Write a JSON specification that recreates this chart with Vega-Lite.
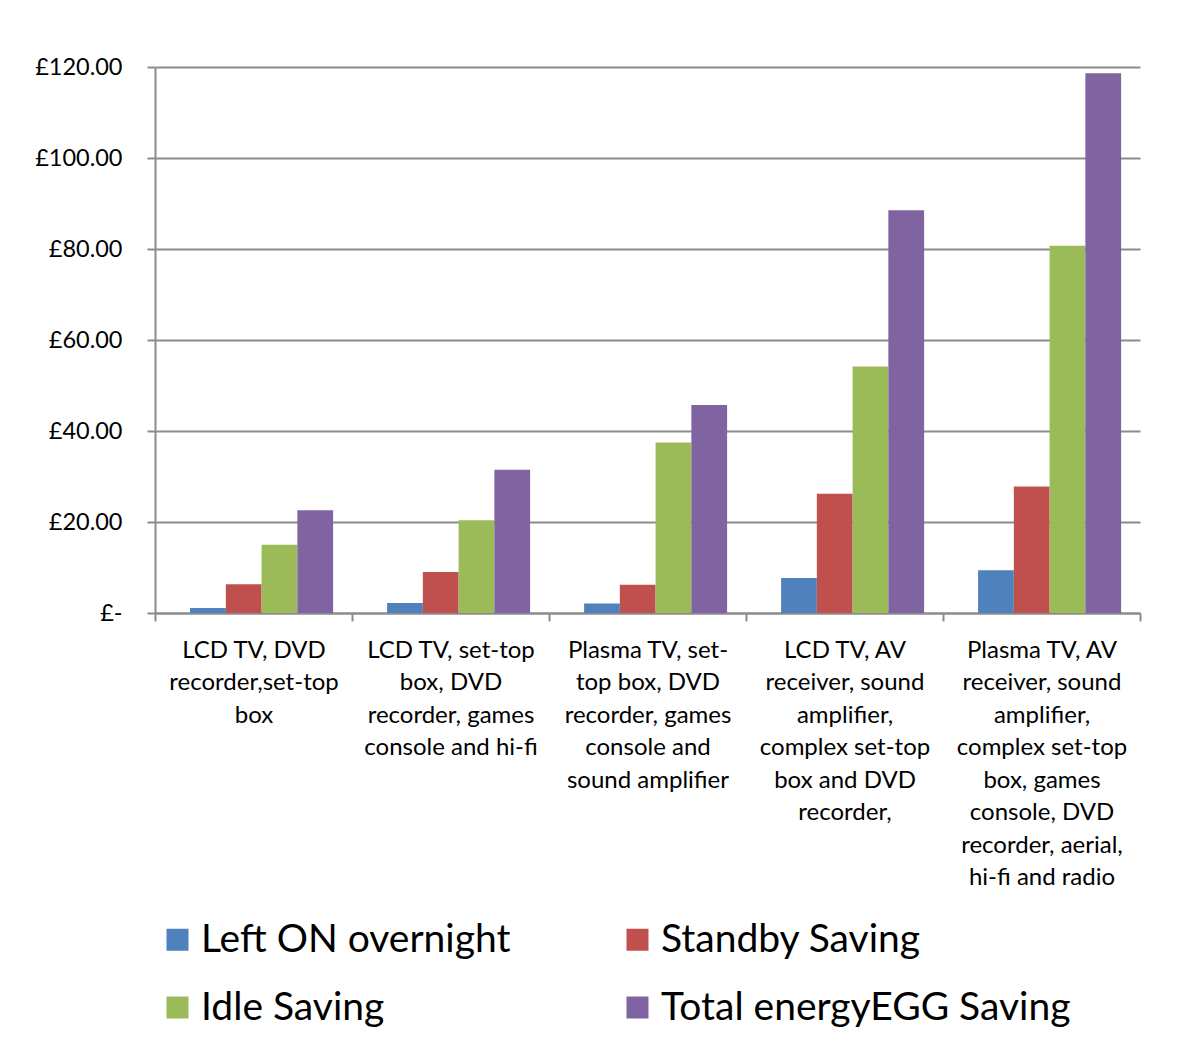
{
  "$schema": "https://vega.github.io/schema/vega-lite/v6.json",
  "width": 985,
  "height": 546,
  "autosize": {"type": "none"},
  "padding": {"left": 155, "top": 67, "right": 62, "bottom": 432},
  "background": "white",
  "data": {
    "values": [
      {"setup": "LCD TV, DVD\nrecorder,set-top\nbox", "series": "Left ON overnight", "saving": 1.1},
      {"setup": "LCD TV, DVD\nrecorder,set-top\nbox", "series": "Standby Saving", "saving": 6.3},
      {"setup": "LCD TV, DVD\nrecorder,set-top\nbox", "series": "Idle Saving", "saving": 15.0},
      {"setup": "LCD TV, DVD\nrecorder,set-top\nbox", "series": "Total energyEGG Saving", "saving": 22.6},
      {"setup": "LCD TV, set-top\nbox, DVD\nrecorder, games\nconsole and hi-fi", "series": "Left ON overnight", "saving": 2.2},
      {"setup": "LCD TV, set-top\nbox, DVD\nrecorder, games\nconsole and hi-fi", "series": "Standby Saving", "saving": 9.0},
      {"setup": "LCD TV, set-top\nbox, DVD\nrecorder, games\nconsole and hi-fi", "series": "Idle Saving", "saving": 20.4},
      {"setup": "LCD TV, set-top\nbox, DVD\nrecorder, games\nconsole and hi-fi", "series": "Total energyEGG Saving", "saving": 31.5},
      {"setup": "Plasma TV, set-\ntop box, DVD\nrecorder, games\nconsole and\nsound amplifier", "series": "Left ON overnight", "saving": 2.1},
      {"setup": "Plasma TV, set-\ntop box, DVD\nrecorder, games\nconsole and\nsound amplifier", "series": "Standby Saving", "saving": 6.2},
      {"setup": "Plasma TV, set-\ntop box, DVD\nrecorder, games\nconsole and\nsound amplifier", "series": "Idle Saving", "saving": 37.5},
      {"setup": "Plasma TV, set-\ntop box, DVD\nrecorder, games\nconsole and\nsound amplifier", "series": "Total energyEGG Saving", "saving": 45.7},
      {"setup": "LCD TV, AV\nreceiver, sound\namplifier,\ncomplex set-top\nbox and DVD\nrecorder,", "series": "Left ON overnight", "saving": 7.7},
      {"setup": "LCD TV, AV\nreceiver, sound\namplifier,\ncomplex set-top\nbox and DVD\nrecorder,", "series": "Standby Saving", "saving": 26.2},
      {"setup": "LCD TV, AV\nreceiver, sound\namplifier,\ncomplex set-top\nbox and DVD\nrecorder,", "series": "Idle Saving", "saving": 54.2},
      {"setup": "LCD TV, AV\nreceiver, sound\namplifier,\ncomplex set-top\nbox and DVD\nrecorder,", "series": "Total energyEGG Saving", "saving": 88.5},
      {"setup": "Plasma TV, AV\nreceiver, sound\namplifier,\ncomplex set-top\nbox, games\nconsole, DVD\nrecorder, aerial,\nhi-fi and radio", "series": "Left ON overnight", "saving": 9.4},
      {"setup": "Plasma TV, AV\nreceiver, sound\namplifier,\ncomplex set-top\nbox, games\nconsole, DVD\nrecorder, aerial,\nhi-fi and radio", "series": "Standby Saving", "saving": 27.8},
      {"setup": "Plasma TV, AV\nreceiver, sound\namplifier,\ncomplex set-top\nbox, games\nconsole, DVD\nrecorder, aerial,\nhi-fi and radio", "series": "Idle Saving", "saving": 80.7},
      {"setup": "Plasma TV, AV\nreceiver, sound\namplifier,\ncomplex set-top\nbox, games\nconsole, DVD\nrecorder, aerial,\nhi-fi and radio", "series": "Total energyEGG Saving", "saving": 118.6}
    ]
  },
  "mark": {"type": "bar"},
  "encoding": {
    "x": {
      "field": "setup",
      "type": "nominal",
      "sort": null,
      "scale": {"paddingInner": 0, "paddingOuter": 0},
      "axis": {
        "title": null,
        "labelAngle": 0,
        "labelExpr": "split(datum.label, '\\n')",
        "labelFontSize": 24,
        "labelLineHeight": 32.5,
        "labelLimit": 0,
        "labelPadding": 17,
        "labelColor": "black",
        "tickBand": "extent",
        "tickSize": 8,
        "tickColor": "#8c8c8c",
        "tickWidth": 2,
        "domainColor": "#8c8c8c",
        "domainWidth": 2
      }
    },
    "xOffset": {
      "field": "series",
      "sort": ["Left ON overnight", "Standby Saving", "Idle Saving", "Total energyEGG Saving"],
      "scale": {"paddingInner": 0, "paddingOuter": 0.755, "align": 0.65}
    },
    "y": {
      "field": "saving",
      "type": "quantitative",
      "scale": {"domain": [0, 120]},
      "axis": {
        "title": null,
        "values": [0, 20, 40, 60, 80, 100, 120],
        "labelExpr": "datum.value == 0 ? '£-\u00a0\u00a0' : '£' + format(datum.value, '.2f')",
        "labelFontSize": 23.5,
        "labelPadding": 25,
        "labelColor": "black",
        "tickSize": 8,
        "tickColor": "#8c8c8c",
        "tickWidth": 2,
        "domainColor": "#8c8c8c",
        "domainWidth": 2,
        "grid": true,
        "gridColor": "#8c8c8c",
        "gridWidth": 2
      }
    },
    "color": {
      "field": "series",
      "type": "nominal",
      "sort": ["Left ON overnight", "Standby Saving", "Idle Saving", "Total energyEGG Saving"],
      "scale": {
        "domain": ["Left ON overnight", "Standby Saving", "Idle Saving", "Total energyEGG Saving"],
        "range": ["#4F81BD", "#C0504D", "#9BBB59", "#8064A2"]
      },
      "legend": {
        "title": null,
        "orient": "none",
        "legendX": 3,
        "legendY": 853,
        "columns": 2,
        "direction": "horizontal",
        "labelFontSize": 39,
        "labelColor": "black",
        "labelLimit": 0,
        "labelOffset": 4,
        "symbolType": "square",
        "symbolSize": 484,
        "symbolStrokeWidth": 0,
        "columnPadding": 107,
        "rowPadding": 28,
        "padding": 0
      }
    }
  },
  "config": {
    "view": {"stroke": null},
    "font": "Lato"
  }
}
